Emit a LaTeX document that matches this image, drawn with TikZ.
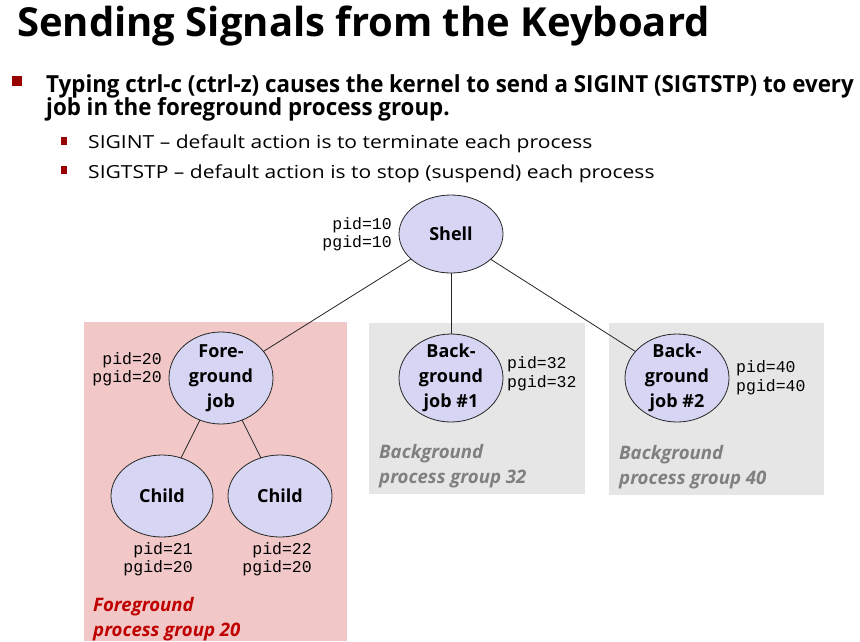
\documentclass[tikz,border=0pt]{standalone}
\usepackage{fontspec}
\setmainfont{Open Sans}
\newfontfamily\bulfont[FakeStretch=0.95]{Open Sans}
\newfontfamily\subfont[FakeStretch=1.17]{Open Sans}
\newfontfamily\monof{Liberation Mono}
\usetikzlibrary{shapes.geometric}
\definecolor{lav}{RGB}{214,214,244}
\definecolor{fgpink}{RGB}{241,199,199}
\definecolor{bggray}{RGB}{230,230,230}
\definecolor{fgred}{RGB}{192,0,0}
\definecolor{grouptxt}{RGB}{128,128,128}
\definecolor{bulred}{RGB}{153,0,0}
\begin{document}
\begin{tikzpicture}[x=1pt,y=-1pt,
  proc/.style={ellipse, draw=black!85, line width=0.8pt, fill=lav, inner sep=0pt, outer sep=0pt},
  ptext/.style={font=\bfseries\fontsize{18}{25}\selectfont, align=center, inner sep=0pt},
  ids/.style={font=\monof\fontsize{16.5}{19}\selectfont, inner sep=0pt},
  grp/.style={font=\bfseries\itshape\fontsize{18.6}{25}\selectfont, align=left, inner sep=0pt, anchor=north west},
  link/.style={draw=black!85, line width=0.8pt},
  txt/.style={inner sep=0pt, anchor=base west}]
\useasboundingbox (0,0) rectangle (860,641);
% title and bullets
\node[txt, font=\bfseries\fontsize{40}{45}\selectfont] (title) at (17,36) {Sending Signals from the Keyboard};
\fill[bulred] (12,76) rectangle (22,86);
\node[txt, font=\bulfont\bfseries\fontsize{23.5}{28}\selectfont] (b1) at (46,92) {Typing ctrl-c (ctrl-z) causes the kernel to send a SIGINT (SIGTSTP) to every};
\node[txt, font=\bulfont\bfseries\fontsize{23.5}{28}\selectfont] (b1b) at (46,115) {job in the foreground process group.};
\fill[bulred] (61,137) rectangle (67,145);
\node[txt, font=\subfont\fontsize{18}{24}\selectfont] (s1) at (88,148) {SIGINT – default action is to terminate each process};
\fill[bulred] (61,166) rectangle (67,174);
\node[txt, font=\subfont\fontsize{18}{24}\selectfont] (s2) at (88,178) {SIGTSTP – default action is to stop (suspend) each process};
% group backgrounds
\fill[fgpink] (84,322) rectangle (347,641);
\fill[bggray] (369,323) rectangle (585,494);
\fill[bggray] (609,323) rectangle (824,495);
% processes
\node[proc, minimum width=104pt, minimum height=78pt, label={[ptext]center:Shell}] (shell) at (451,234) {};
\node[proc, minimum width=104pt, minimum height=92pt, label={[ptext]center:Fore-\\ground\\job}] (fg) at (221,378) {};
\node[proc, minimum width=102pt, minimum height=82pt, label={[ptext]center:Child}] (c1) at (162,496) {};
\node[proc, minimum width=104pt, minimum height=82pt, label={[ptext]center:Child}] (c2) at (280,496) {};
\node[proc, minimum width=104pt, minimum height=88pt, label={[ptext]center:Back-\\ground\\job \#1}] (bg1) at (451,378) {};
\node[proc, minimum width=104pt, minimum height=88pt, label={[ptext]center:Back-\\ground\\job \#2}] (bg2) at (677,378) {};
% connectors
\draw[link] (shell) -- (fg);
\draw[link] (shell) -- (bg1);
\draw[link] (shell) -- (bg2);
\draw[link] (fg) -- (c1);
\draw[link] (fg) -- (c2);
% ids
\node[ids, anchor=east] (sh1) at (392,225) {pid=10};
\node[ids, anchor=east] (sh2) at (392,243) {pgid=10};
\node[ids, anchor=east] (fg1) at (162,360) {pid=20};
\node[ids, anchor=east] (fg2) at (162,378) {pgid=20};
\node[ids, anchor=east] (c11) at (193,550) {pid=21};
\node[ids, anchor=east] (c12) at (193,568) {pgid=20};
\node[ids, anchor=east] (c21) at (312,550) {pid=22};
\node[ids, anchor=east] (c22) at (312,568) {pgid=20};
\node[ids, anchor=west] (bg11) at (507,364) {pid=32};
\node[ids, anchor=west] (bg12) at (507,383) {pgid=32};
\node[ids, anchor=west] (bg21) at (736,368) {pid=40};
\node[ids, anchor=west] (bg22) at (736,387) {pgid=40};
% group labels
\node[grp, text=fgred] (gfg) at (93,597) {Foreground\\process group 20};
\node[grp, text=grouptxt] (gb1) at (379,444) {Background\\process group 32};
\node[grp, text=grouptxt] (gb2) at (619,445) {Background\\process group 40};
\end{tikzpicture}
\end{document}
